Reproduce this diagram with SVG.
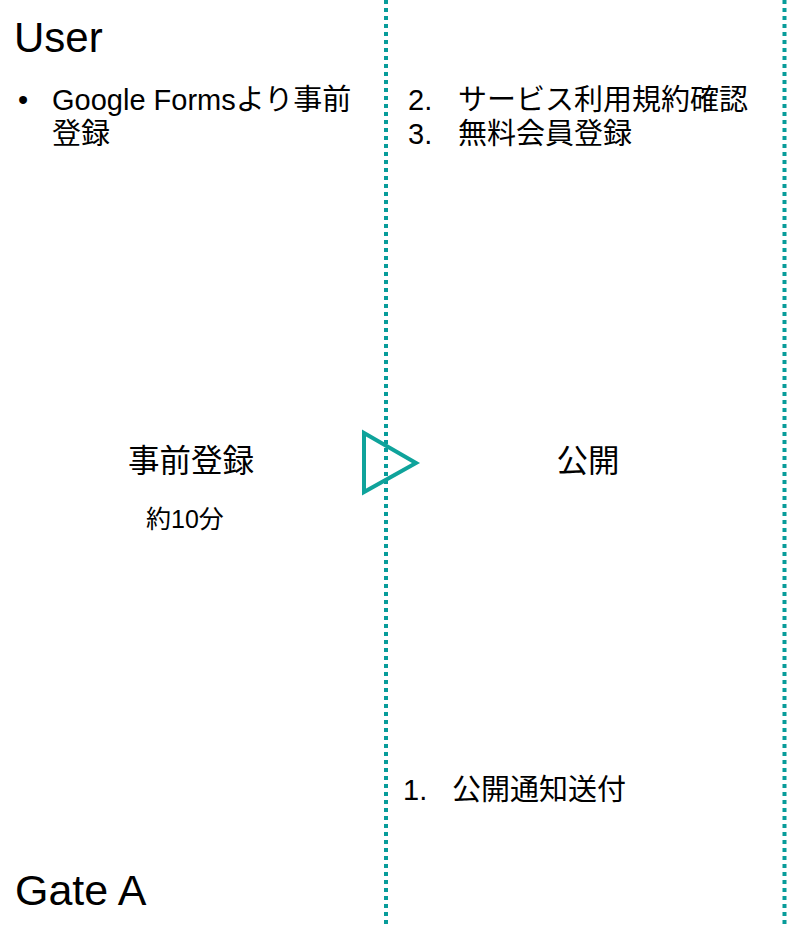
<svg xmlns="http://www.w3.org/2000/svg" width="788" height="927" viewBox="0 0 788 927">
<style>
.t{font-family:"Liberation Sans","Noto Sans CJK JP",sans-serif;fill:#000}
.div{stroke:#089c9a;stroke-width:4;stroke-dasharray:4 4;fill:none}
</style>
<rect width="788" height="927" fill="#fff"/>
<g id="connectors">
<line class="div" x1="386" y1="0" x2="386" y2="927"/>
<line class="div" x1="784.5" y1="0" x2="784.5" y2="927"/>
<polygon points="364,433 364,492 416,463" fill="none" stroke="#0fa39b" stroke-width="4"/>
</g>
<g id="user-lane">
<text class="t" x="14" y="52" font-size="42">User</text>
<text class="t" x="18" y="110" font-size="29">•</text>
<text class="t" x="52" y="110" font-size="29">Google Formsより事前</text>
<text class="t" x="52" y="144" font-size="29">登録</text>
</g>
<g id="gate-lane">
<text class="t" x="15" y="905" font-size="43">Gate A</text>
</g>
<g id="pre-registration">
<text class="t" x="191" y="472" font-size="31.5" text-anchor="middle">事前登録</text>
<text class="t" x="146" y="528" font-size="25">約10分</text>
</g>
<g id="publish">
<text class="t" x="588" y="472" font-size="31.5" text-anchor="middle">公開</text>
<text class="t" x="408" y="110" font-size="29">2.</text>
<text class="t" x="458" y="110" font-size="29">サービス利用規約確認</text>
<text class="t" x="408" y="144" font-size="29">3.</text>
<text class="t" x="458" y="144" font-size="29">無料会員登録</text>
<text class="t" x="403" y="800" font-size="29">1.</text>
<text class="t" x="452" y="800" font-size="29">公開通知送付</text>
</g>
</svg>
